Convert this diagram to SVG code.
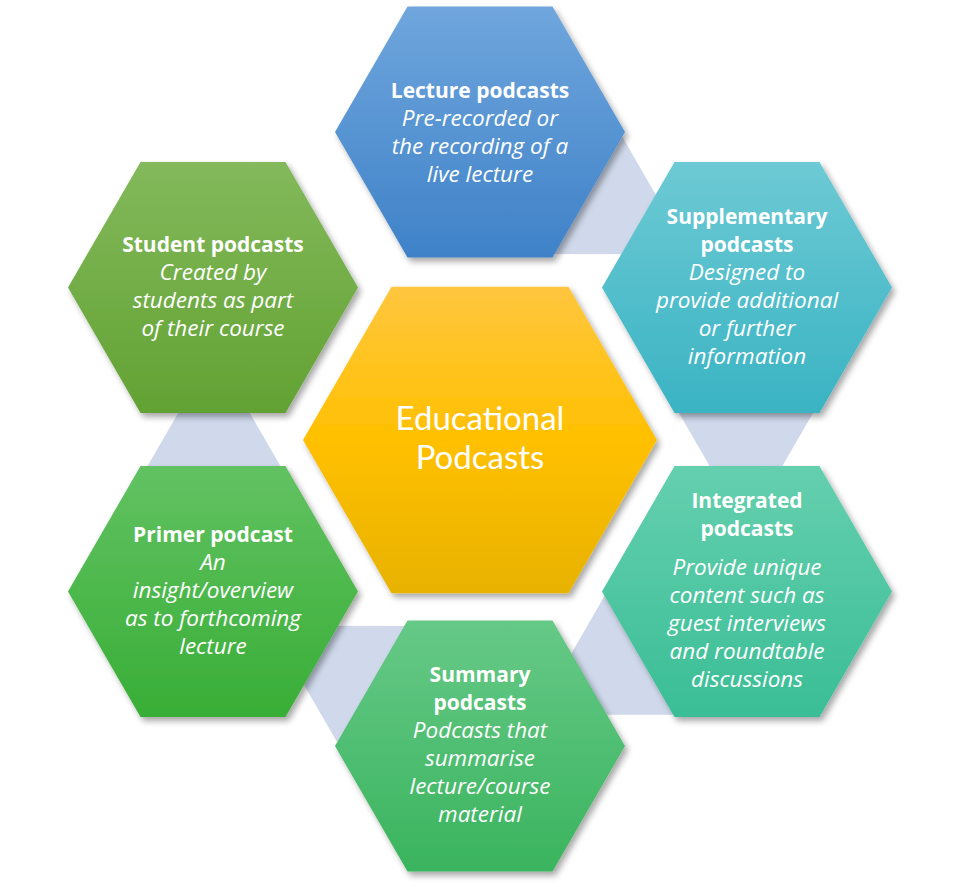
<svg xmlns="http://www.w3.org/2000/svg" xmlns:xlink="http://www.w3.org/1999/xlink" width="960" height="887" viewBox="0 0 960 887">
<defs>
<style>
.t{font-family:"Open Sans",Lato,"Liberation Sans",sans-serif;fill:#fff;text-anchor:middle;font-size:21px}
.b{font-weight:bold}
.i{font-style:italic;font-size:22.5px}
.c{font-family:Lato,"Open Sans",sans-serif;font-size:33px}
.conn{fill:#CFD9EB}
</style>
<filter id="sh" x="-10%" y="-10%" width="125%" height="125%">
<feDropShadow dx="3" dy="4" stdDeviation="3" flood-color="#000" flood-opacity="0.35"/>
</filter>
<polygon id="hex" points="-145,0 -72.5,-125.6 72.5,-125.6 145,0 72.5,125.6 -72.5,125.6"/>
<linearGradient id="gLec" x1="0" y1="0" x2="0" y2="1"><stop offset="0" stop-color="#6FA6DD"/><stop offset="1" stop-color="#3F82C8"/></linearGradient>
<linearGradient id="gSup" x1="0" y1="0" x2="0" y2="1"><stop offset="0" stop-color="#6DCAD4"/><stop offset="1" stop-color="#3AB3C3"/></linearGradient>
<linearGradient id="gInt" x1="0" y1="0" x2="0" y2="1"><stop offset="0" stop-color="#65CFAE"/><stop offset="1" stop-color="#3ABE95"/></linearGradient>
<linearGradient id="gSum" x1="0" y1="0" x2="0" y2="1"><stop offset="0" stop-color="#66C987"/><stop offset="1" stop-color="#3AB45E"/></linearGradient>
<linearGradient id="gPri" x1="0" y1="0" x2="0" y2="1"><stop offset="0" stop-color="#62C262"/><stop offset="1" stop-color="#38AE36"/></linearGradient>
<linearGradient id="gStu" x1="0" y1="0" x2="0" y2="1"><stop offset="0" stop-color="#83B95B"/><stop offset="1" stop-color="#62A233"/></linearGradient>
<linearGradient id="gCen" x1="0" y1="0" x2="0" y2="1"><stop offset="0" stop-color="#FFC63F"/><stop offset="0.5" stop-color="#FFC000"/><stop offset="1" stop-color="#E8B200"/></linearGradient>
<polygon id="tri" points="666,390.4 826,390.4 746,529"/>
</defs>
<rect width="960" height="887" fill="#fff"/>
<g id="connectors">
<use xlink:href="#tri" class="conn" transform="rotate(-60 480 440)"/>
<use xlink:href="#tri" class="conn"/>
<use xlink:href="#tri" class="conn" transform="rotate(60 480 440)"/>
<use xlink:href="#tri" class="conn" transform="rotate(120 480 440)"/>
<use xlink:href="#tri" class="conn" transform="rotate(180 480 440)"/>
</g>
<g id="lecture">
<use xlink:href="#hex" x="480" y="132" fill="url(#gLec)" filter="url(#sh)"/>
<text class="t b" x="480" y="98">Lecture podcasts</text>
<text class="t i" x="480" y="126">Pre-recorded or</text>
<text class="t i" x="480" y="154">the recording of a</text>
<text class="t i" x="480" y="182">live lecture</text>
</g>
<g id="supplementary">
<use xlink:href="#hex" x="747" y="287.5" fill="url(#gSup)" filter="url(#sh)"/>
<text class="t b" x="747" y="224">Supplementary</text>
<text class="t b" x="747" y="252">podcasts</text>
<text class="t i" x="747" y="280">Designed to</text>
<text class="t i" x="747" y="308">provide additional</text>
<text class="t i" x="747" y="336">or further</text>
<text class="t i" x="747" y="364">information</text>
</g>
<g id="integrated">
<use xlink:href="#hex" x="747" y="591.5" fill="url(#gInt)" filter="url(#sh)"/>
<text class="t b" x="747" y="508">Integrated</text>
<text class="t b" x="747" y="536">podcasts</text>
<text class="t i" x="747" y="575">Provide unique</text>
<text class="t i" x="747" y="603">content such as</text>
<text class="t i" x="747" y="631">guest interviews</text>
<text class="t i" x="747" y="659">and roundtable</text>
<text class="t i" x="747" y="687">discussions</text>
</g>
<g id="summary">
<use xlink:href="#hex" x="480" y="746" fill="url(#gSum)" filter="url(#sh)"/>
<text class="t b" x="480" y="682">Summary</text>
<text class="t b" x="480" y="710">podcasts</text>
<text class="t i" x="480" y="738">Podcasts that</text>
<text class="t i" x="480" y="766">summarise</text>
<text class="t i" x="480" y="794">lecture/course</text>
<text class="t i" x="480" y="822">material</text>
</g>
<g id="primer">
<use xlink:href="#hex" x="213" y="591.5" fill="url(#gPri)" filter="url(#sh)"/>
<text class="t b" x="213" y="542">Primer podcast</text>
<text class="t i" x="213" y="570">An</text>
<text class="t i" x="213" y="598">insight/overview</text>
<text class="t i" x="213" y="626">as to forthcoming</text>
<text class="t i" x="213" y="654">lecture</text>
</g>
<g id="student">
<use xlink:href="#hex" x="213" y="287.5" fill="url(#gStu)" filter="url(#sh)"/>
<text class="t b" x="213" y="252">Student podcasts</text>
<text class="t i" x="213" y="280">Created by</text>
<text class="t i" x="213" y="308">students as part</text>
<text class="t i" x="213" y="336">of their course</text>
</g>
<g id="center">
<polygon points="303,440 391.5,286.7 568.5,286.7 657,440 568.5,593.3 391.5,593.3" fill="url(#gCen)" filter="url(#sh)"/>
<text class="t c" x="480" y="430">Educational</text>
<text class="t c" x="480" y="469">Podcasts</text>
</g>
</svg>
